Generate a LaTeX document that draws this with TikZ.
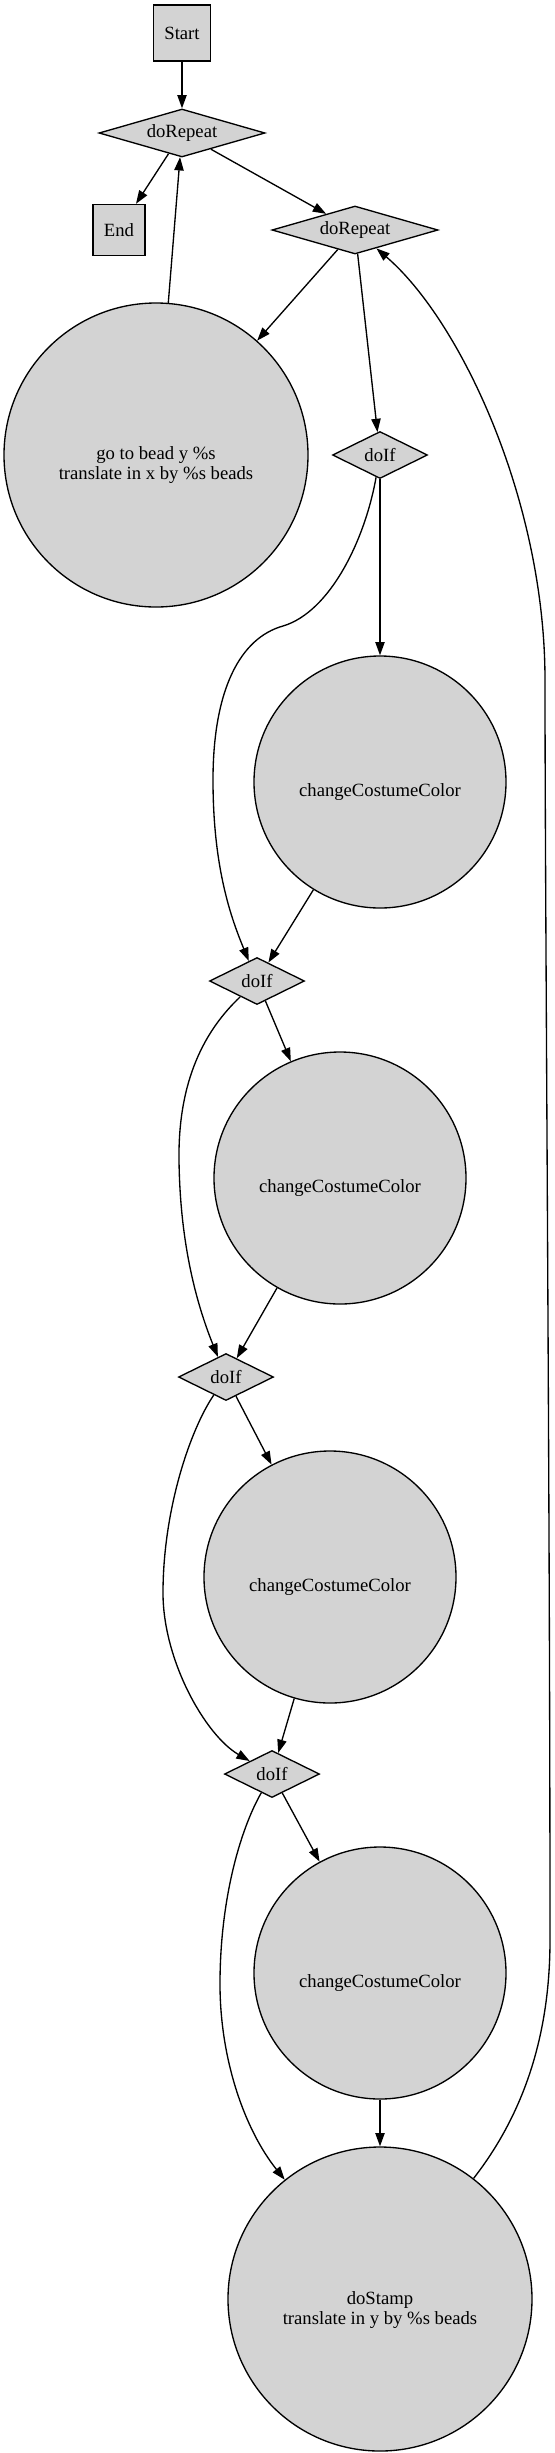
\documentclass[tikz,border=0pt]{standalone}
\usepackage{fontspec}
\setmainfont{Liberation Serif}
\usetikzlibrary{shapes.geometric,arrows.meta}

\definecolor{nodegray}{RGB}{211,211,211}
% label pushed below the centre, as the circles print it
\newcommand{\lowlabel}[2]{\raisebox{-#1}[0pt][0pt]{\begin{tabular}[t]{@{}c@{}}#2\end{tabular}}}

\begin{document}
\begin{tikzpicture}[x=0.75pt,y=-0.75pt,
    >={Triangle[length=10pt,width=7pt]},
    block/.style={draw, fill=nodegray, line width=1pt, inner sep=0pt, font=\fontsize{14}{15}\selectfont},
    boxnode/.style={block, rectangle},
    repnode/.style={block, diamond, aspect=3, minimum width=124.5pt, minimum height=36pt},
    ifnode/.style={block, diamond, aspect=3, minimum width=71.25pt, minimum height=35.25pt},
    bignode/.style={block, circle, minimum size=228pt},
    colnode/.style={block, circle, minimum size=189pt},
    flow/.style={->, line width=1pt}]
    \useasboundingbox (0,0) rectangle (554,2453);

    % Start, outer loop, End
    \node[boxnode, minimum width=42.75pt, minimum height=42pt] (start) at (182,33) {Start};
    \node[repnode] (rep1) at (182,133) {doRepeat};
    \node[boxnode, minimum width=39pt, minimum height=38.25pt] (theend) at (119,230) {End};
    \node[repnode] (rep2) at (355,230) {doRepeat};
    \node[bignode] (bead) at (156,455) {\lowlabel{3pt}{go to bead y \%s\\translate in x by \%s beads}};

    % Inner loop
    \node[ifnode] (if1) at (380,455) {doIf};
    \node[colnode] (col1) at (380,782) {\lowlabel{10.5pt}{changeCostumeColor}};
    \node[ifnode] (if2) at (257,981) {doIf};
    \node[colnode] (col2) at (340,1178) {\lowlabel{10.5pt}{changeCostumeColor}};
    \node[ifnode] (if3) at (226,1377) {doIf};
    \node[colnode] (col3) at (330,1577) {\lowlabel{10.5pt}{changeCostumeColor}};
    \node[ifnode] (if4) at (272,1774) {doIf};
    \node[colnode] (col4) at (380,1973) {\lowlabel{10.5pt}{changeCostumeColor}};
    \node[bignode] (stamp) at (380,2299) {\lowlabel{3.75pt}{doStamp\\translate in y by \%s beads}};

    % Straight edges
    \draw[flow] (start) -- (rep1);
    \draw[flow] (rep1) -- (theend);
    \draw[flow] (rep1) -- (rep2);
    \draw[flow] (bead) -- (rep1);
    \draw[flow] (rep2) -- (bead);
    \draw[flow] (rep2) -- (if1);
    \draw[flow] (if1) -- (col1);
    \draw[flow] (col1) -- (if2);
    \draw[flow] (if2) -- (col2);
    \draw[flow] (col2) -- (if3);
    \draw[flow] (if3) -- (col3);
    \draw[flow] (col3) -- (if4);
    \draw[flow] (if4) -- (col4);
    \draw[flow] (col4) -- (stamp);

    % Skipping edges
    \draw[flow] (if1) .. controls (365,540) and (330,612) .. (283,626)
        .. controls (240,638) and (213,690) .. (213,780)
        .. controls (213,870) and (232,920) .. (if2);
    \draw[flow] (if2) .. controls (205,1030) and (178,1080) .. (179,1160)
        .. controls (180,1240) and (195,1300) .. (if3);
    \draw[flow] (if3) .. controls (190,1430) and (163,1510) .. (163,1593)
        .. controls (163,1660) and (205,1735) .. (if4);
    \draw[flow] (if4) .. controls (240,1830) and (220,1900) .. (220,1984)
        .. controls (220,2060) and (245,2130) .. (stamp);

    % Back to the outer loop
    \draw[flow] (stamp) .. controls (515,2125) and (550,2050) .. (550,1940)
        .. controls (550,1500) and (545,900) .. (545,680)
        .. controls (545,500) and (460,320) .. (rep2);
\end{tikzpicture}
\end{document}
